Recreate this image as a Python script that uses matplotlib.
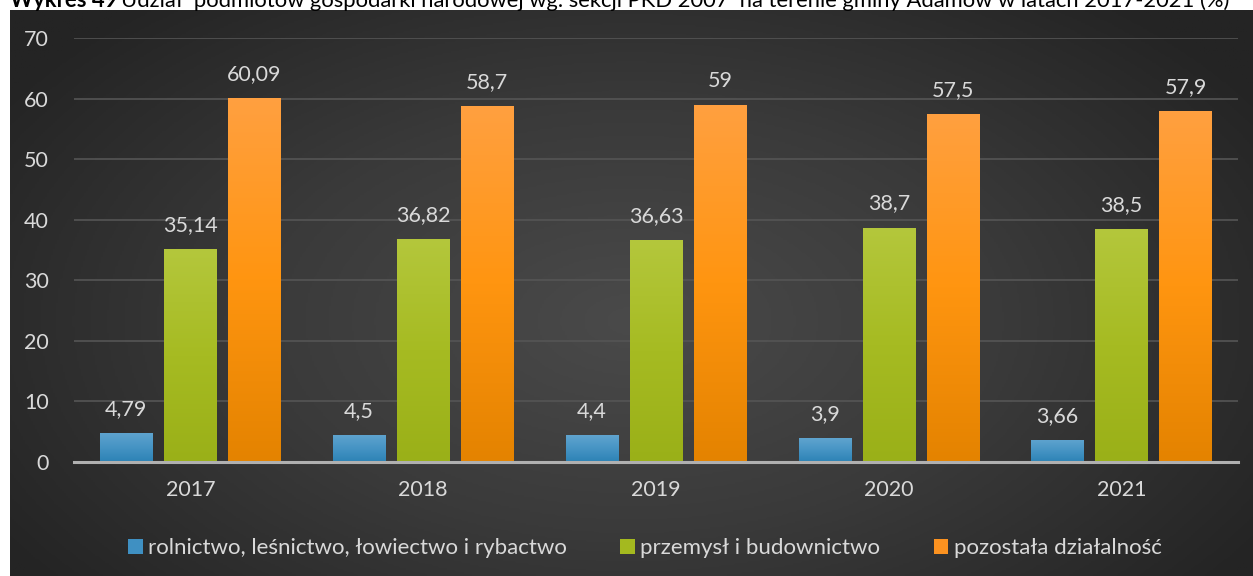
import numpy as np
import matplotlib
matplotlib.use("Agg")
import matplotlib.pyplot as plt
from matplotlib.colors import LinearSegmentedColormap

years = ["2017", "2018", "2019", "2020", "2021"]
rolnictwo = [4.79, 4.5, 4.4, 3.9, 3.66]
przemysl = [35.14, 36.82, 36.63, 38.7, 38.5]
pozostala = [60.09, 58.7, 59.0, 57.5, 57.9]
labels_rol = ["4,79", "4,5", "4,4", "3,9", "3,66"]
labels_prz = ["35,14", "36,82", "36,63", "38,7", "38,5"]
labels_poz = ["60,09", "58,7", "59", "57,5", "57,9"]
series_names = ["rolnictwo, leśnictwo, łowiectwo i rybactwo",
                "przemysł i budownictwo", "pozostała działalność"]
yticks = [0, 10, 20, 30, 40, 50, 60, 70]

FONT = ["Lato", "DejaVu Sans"]
plt.rcParams['font.family'] = FONT
TXT = "#d9d9d9"
FS = 15.5

W, H = 1253, 576
fig = plt.figure(figsize=(W / 100, H / 100), dpi=100)
fig.patch.set_facecolor("white")

# background panel with radial gradient
bg = fig.add_axes([10 / W, 0, 1 - 10 / W, 1 - 10 / H])
bg.set_axis_off()
ny, nx = 300, 600
yy, xx = np.mgrid[0:1:ny * 1j, 0:1:nx * 1j]
r = np.sqrt(((xx - 0.5) / 0.6) ** 2 + ((yy - 0.45) / 0.75) ** 2)
r = np.clip(r, 0, 1)
bgcmap = LinearSegmentedColormap.from_list("bg", ["#4a4a4a", "#3a3a3a", "#242424"])
bg.imshow(bgcmap(r), aspect="auto", extent=[0, 1, 0, 1], origin="lower")
bg.set_xlim(0, 1)
bg.set_ylim(0, 1)

ax = fig.add_axes([74 / W, (H - 462) / H, (1238 - 74) / W, (462 - 38) / H])
ax.patch.set_alpha(0)
x = np.arange(len(years))
bw = 0.225
off = 0.275
grads = [
    ["#60a4cf", "#4694c4", "#2c82b5"],
    ["#b4c73c", "#a6bb22", "#9ab018"],
    ["#ffa040", "#ff9510", "#e48300"],
]
legend_colors = ["#3f90c2", "#a4b91f", "#fb9220"]
series = [rolnictwo, przemysl, pozostala]
labels = [labels_rol, labels_prz, labels_poz]

ax.set_xlim(-0.5, len(years) - 0.5)
ax.set_ylim(0, 70)

handles = []
for i, (vals, labs) in enumerate(zip(series, labels)):
    bars = ax.bar(x + (i - 1) * off, vals, width=bw, color=legend_colors[i],
                  zorder=3, label=series_names[i])
    handles.append(bars)
    cmap = LinearSegmentedColormap.from_list("g%d" % i, grads[i][::-1])
    grad = np.linspace(0, 1, 256).reshape(-1, 1)
    for b, lab in zip(bars, labs):
        x0, y0 = b.get_x(), b.get_y()
        w, h = b.get_width(), b.get_height()
        im = ax.imshow(grad, cmap=cmap, aspect="auto", origin="lower",
                       extent=[x0, x0 + w, y0, y0 + h], zorder=4)
        im.set_clip_path(b)
        ax.annotate(lab, (x0 + w / 2, y0 + h), xytext=(0, 13),
                    textcoords="offset points", ha="center", va="baseline",
                    color=TXT, fontsize=FS, zorder=5)

ax.set_xlim(-0.5, len(years) - 0.5)
ax.set_ylim(0, 70)
ax.set_yticks(yticks)
ax.set_yticklabels([str(t) for t in yticks], color=TXT, fontsize=FS)
ax.set_xticks(x)
ax.set_xticklabels(years, color=TXT, fontsize=FS)
ax.tick_params(axis="both", length=0)
ax.tick_params(axis="y", pad=18)
ax.tick_params(axis="x", pad=13)
ax.grid(axis="y", color="#555555", linewidth=1.2, zorder=0)
for s in ["top", "right", "left"]:
    ax.spines[s].set_visible(False)
ax.spines["bottom"].set_color("#b0b0b0")
ax.spines["bottom"].set_linewidth(2.2)
ax.spines["bottom"].set_zorder(6)

leg = fig.legend(handles=handles, loc="center", bbox_to_anchor=(645 / W, 1 - 548 / H),
                 ncol=3, frameon=False, fontsize=16, handlelength=0.65,
                 handleheight=0.65, handletextpad=0.25, columnspacing=2.4)
for t in leg.get_texts():
    t.set_color(TXT)

# title (clipped at top, as in reference)
ty = 1 - 7 / H
t1 = fig.text(10 / W, ty, "Wykres 49", fontsize=15.8, fontweight="bold",
              va="baseline", ha="left", color="black")
fig.canvas.draw()
bb = t1.get_window_extent(fig.canvas.get_renderer())
fig.text(bb.x1 / W + 4 / W, ty,
         "Udział  podmiotów gospodarki narodowej wg. sekcji PKD 2007  na terenie gminy Adamów w latach 2017-2021 (%)",
         fontsize=15.8, va="baseline", ha="left", color="black")

fig.savefig("out.png", dpi=100)
